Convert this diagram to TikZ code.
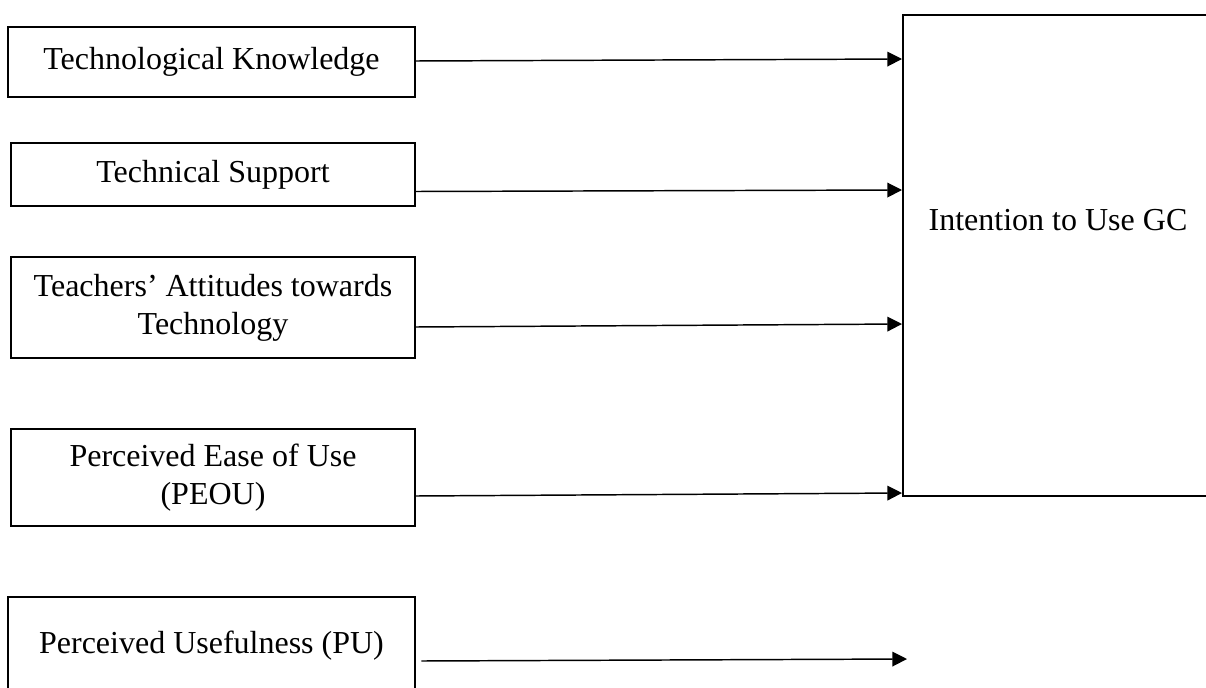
\documentclass[tikz,border=0pt]{standalone}
\usepackage{fontspec}
\setmainfont{Liberation Serif}
\usetikzlibrary{arrows.meta}
\begin{document}
\begin{tikzpicture}[x=0.75pt,y=-0.75pt,
  box/.style={draw,line width=1.5pt,inner sep=0pt,align=center,font=\fontsize{24}{28.5}\selectfont},
  lbl/.style={inner sep=0pt,align=center,font=\fontsize{24}{28.5}\selectfont},
  arr/.style={line width=1.1pt,-{Triangle[length=11pt,width=11pt]}}]
\useasboundingbox (0,0) rectangle (1206,688);
\clip (0,0) rectangle (1206,688);
\node[box,minimum width=407*0.75pt,minimum height=70*0.75pt] (b1) at (211.5,62) {Technological Knowledge};
\node[box,minimum width=404*0.75pt,minimum height=63*0.75pt] (b2) at (213,174.5) {Technical Support};
\node[box,minimum width=404*0.75pt,minimum height=101*0.75pt] (b3) at (213,307.5) {Teachers’ Attitudes towards\\Technology};
\node[box,minimum width=404*0.75pt,minimum height=97*0.75pt] (b4) at (213,477.5) {Perceived Ease of Use\\(PEOU)};
\node[box,minimum width=407*0.75pt,minimum height=98*0.75pt] (b5) at (211.5,646) {Perceived Usefulness (PU)};
\node[draw,line width=1.5pt,minimum width=310*0.75pt,minimum height=481*0.75pt] (gc) at (1058,255.5) {};
\node[lbl] (gct) at (1058,220) {Intention to Use GC};
\coordinate (e5) at (907,659);
\draw[arr] (b1.east |- 0,61) -- (gc.west |- 0,59);
\draw[arr] (b2.east |- 0,191.5) -- (gc.west |- 0,190);
\draw[arr] (b3.east |- 0,327) -- (gc.west |- 0,324);
\draw[arr] (b4.east |- 0,496) -- (gc.west |- 0,493);
\draw[arr] ([xshift=4pt]b5.east |- 0,661) -- (e5);
\end{tikzpicture}
\end{document}
